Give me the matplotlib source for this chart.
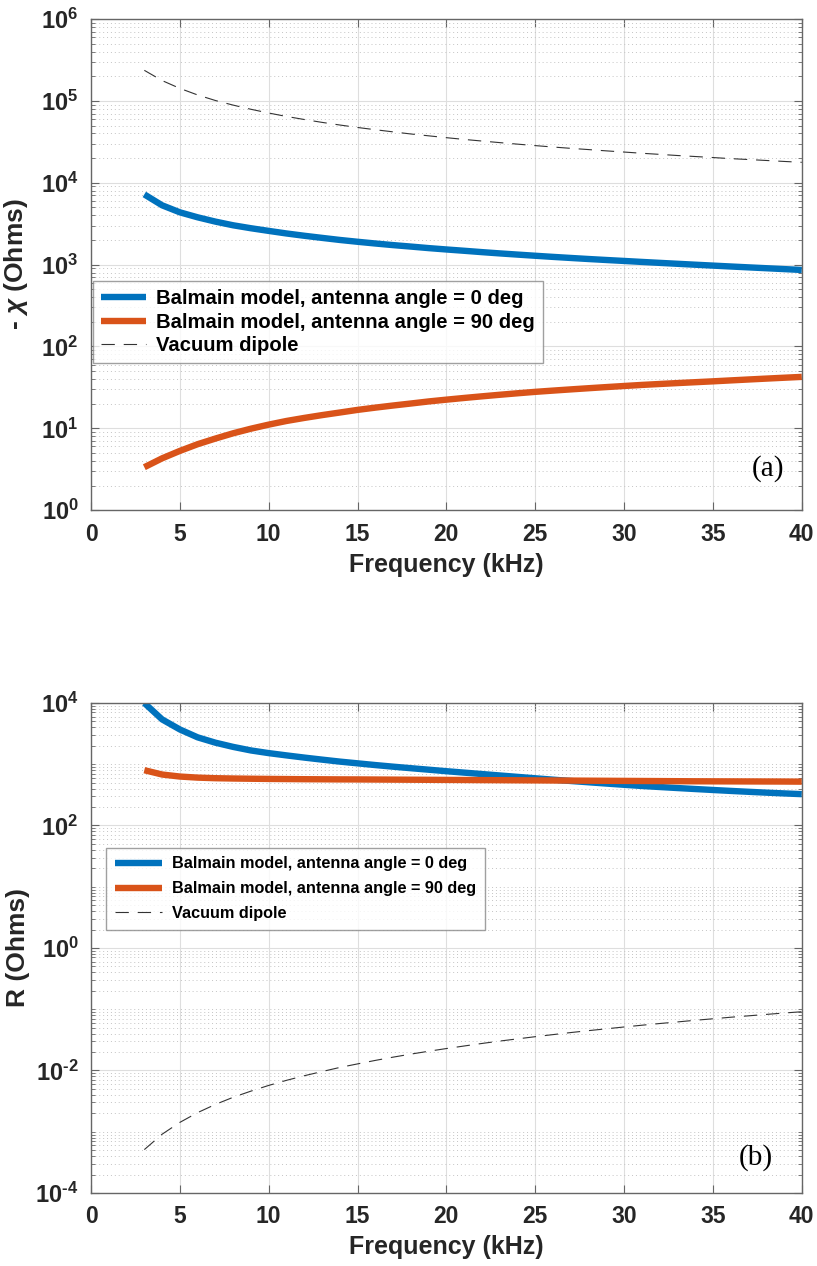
import numpy as np
import matplotlib
matplotlib.use("Agg")
import matplotlib.pyplot as plt
from matplotlib.ticker import FixedLocator, NullFormatter

plt.rcParams['font.family'] = ['Liberation Sans', 'DejaVu Sans']
plt.rcParams['font.weight'] = 'bold'
plt.rcParams['mathtext.fontset'] = 'custom'
plt.rcParams['mathtext.rm'] = 'Liberation Sans:bold'
plt.rcParams['mathtext.it'] = 'Liberation Sans:italic:bold'
plt.rcParams['mathtext.bf'] = 'Liberation Sans:bold'

# frequency (kHz)
freq = list(range(3, 41))

# (a) reactance, -chi (Ohms)
chi_0deg = [7200, 5300, 4350, 3780, 3350, 3020, 2780, 2580, 2400, 2250,
            2120, 2000, 1900, 1810, 1730, 1660, 1590, 1530, 1475, 1420,
            1370, 1325, 1282, 1242, 1205, 1170, 1138, 1108, 1078, 1050,
            1023, 997, 972, 948, 925, 903, 881, 860]
chi_90deg = [3.35, 4.3, 5.3, 6.4, 7.5, 8.7, 9.9, 11.1, 12.3, 13.4,
             14.5, 15.6, 16.8, 17.9, 19.0, 20.1, 21.3, 22.4, 23.5, 24.6,
             25.7, 26.8, 27.9, 28.9, 29.9, 30.9, 31.9, 32.9, 33.9, 34.8,
             35.7, 36.6, 37.5, 38.5, 39.5, 40.5, 41.5, 42.5]
chi_vac = [236000, 177000, 142000, 118000, 101000, 88700, 78900, 71000, 64500, 59200,
           54600, 50700, 47300, 44400, 41800, 39400, 37400, 35500, 33800, 32300,
           30900, 29600, 28400, 27300, 26300, 25400, 24500, 23700, 22900, 22200,
           21500, 20900, 20300, 19700, 19200, 18700, 18200, 17750]

# (b) resistance, R (Ohms)
r_0deg = [10000, 5400, 3700, 2750, 2250, 1920, 1680, 1520, 1395, 1285,
          1190, 1105, 1035, 970, 913, 862, 815, 770, 730, 692,
          656, 622, 590, 560, 533, 508, 484, 462, 442, 425,
          409, 394, 380, 367, 355, 344, 334, 325]
r_90deg = [800, 680, 630, 605, 592, 585, 580, 576, 573, 570,
           568, 566, 565, 563, 561, 559, 557, 555, 553, 551,
           549, 547, 545, 543, 541, 539, 537, 535, 533, 531,
           529, 527, 526, 525, 524, 523, 522, 520]
r_vac = [5.1e-4, 9.1e-4, 1.42e-3, 2.05e-3, 2.79e-3, 3.65e-3, 4.6e-3, 5.7e-3, 6.9e-3, 8.2e-3,
         9.6e-3, 1.12e-2, 1.28e-2, 1.46e-2, 1.65e-2, 1.85e-2, 2.06e-2, 2.28e-2, 2.51e-2, 2.76e-2,
         3.02e-2, 3.28e-2, 3.56e-2, 3.85e-2, 4.16e-2, 4.47e-2, 4.79e-2, 5.13e-2, 5.48e-2, 5.84e-2,
         6.2e-2, 6.6e-2, 6.98e-2, 7.4e-2, 7.8e-2, 8.23e-2, 8.67e-2, 9.1e-2]

labels = ['Balmain model, antenna angle = 0 deg',
          'Balmain model, antenna angle = 90 deg',
          'Vacuum dipole']

blue = '#0072BD'
orange = '#D95319'
edge = '#666666'
txt = '#262626'

fig = plt.figure(figsize=(8.17, 12.66), dpi=100)
ax1 = fig.add_axes([0.1114, 0.597, 0.870, 0.388])
ax2 = fig.add_axes([0.1114, 0.0577, 0.870, 0.387])


def exp_label(v):
    e = round(np.log10(v))
    s = str(e) if e >= 0 else '\\text{-}%d' % -e
    return '$\\mathdefault{10^{%s}}$' % s


def style(ax, ylim, majors):
    ax.set_yscale('log')
    ax.set_xlim(0, 40)
    ax.set_ylim(*ylim)
    ax.set_xticks(range(0, 41, 5))
    ax.yaxis.set_major_locator(FixedLocator(majors))
    lo, hi = np.log10(ylim)
    minors = [m * 10.0 ** e for e in range(int(lo), int(hi)) for m in range(1, 10)]
    minors = [v for v in minors if v not in majors]
    ax.yaxis.set_minor_locator(FixedLocator(minors))
    ax.yaxis.set_minor_formatter(NullFormatter())
    ax.set_yticklabels([exp_label(v) for v in majors])
    ax.tick_params(which='both', direction='in', top=True, right=True,
                   colors=edge, labelcolor=txt)
    ax.tick_params(axis='x', labelsize=16.5, pad=9)
    ax.tick_params(axis='y', labelsize=17, pad=9)
    ax.tick_params(which='major', length=6, width=0.8)
    ax.tick_params(which='minor', length=3, width=0.6)
    ax.tick_params(axis='x', which='minor', length=0)
    for s in ax.spines.values():
        s.set_color(edge)
        s.set_linewidth(1.0)
    ax.grid(True, which='major', color='#dedede', linewidth=0.8, linestyle='-')
    ax.grid(True, which='minor', axis='y', color='#c4c4c4', linewidth=0.7,
            linestyle=(0, (1, 3)))
    ax.set_axisbelow(True)
    ax.set_xlabel('Frequency (kHz)', fontsize=18, fontweight='bold', color=txt, labelpad=5)
    ax.yaxis.set_label_coords(-0.086, 0.5)


# top panel
ax1.plot(freq, chi_0deg, color=blue, lw=4.6, label=labels[0], solid_capstyle='butt')
ax1.plot(freq, chi_90deg, color=orange, lw=4.6, label=labels[1], solid_capstyle='butt')
ax1.plot(freq, chi_vac, color='#333333', lw=0.8, linestyle=(0, (12, 8)), label=labels[2])
style(ax1, (1, 1e6), [1, 10, 100, 1e3, 1e4, 1e5, 1e6])
ax1.set_ylabel('- $\\chi$ (Ohms)', fontsize=19, fontweight='bold', color=txt)
ax1.text(0.952, 0.085, '(a)', transform=ax1.transAxes, family='Liberation Serif',
         fontweight='normal', fontsize=21, ha='center', va='center')
leg1 = ax1.legend(loc='upper left', bbox_to_anchor=(0.003, 0.466), borderaxespad=0,
                  fontsize=14.6, frameon=True, fancybox=False, edgecolor='#888888',
                  handlelength=2.2, handletextpad=0.5, labelspacing=0.22,
                  borderpad=0.4)
leg1.get_frame().set_linewidth(1.0)

# bottom panel
ax2.plot(freq, r_0deg, color=blue, lw=4.6, label=labels[0], solid_capstyle='butt')
ax2.plot(freq, r_90deg, color=orange, lw=4.6, label=labels[1], solid_capstyle='butt')
ax2.plot(freq, r_vac, color='#333333', lw=0.8, linestyle=(0, (12, 8)), label=labels[2])
style(ax2, (1e-4, 1e4), [1e-4, 1e-2, 1, 1e2, 1e4])
ax2.set_ylabel('R (Ohms)', fontsize=19, fontweight='bold', color=txt)
ax2.text(0.935, 0.073, '(b)', transform=ax2.transAxes, family='Liberation Serif',
         fontweight='normal', fontsize=21, ha='center', va='center')
leg2 = ax2.legend(loc='upper left', bbox_to_anchor=(0.021, 0.705), borderaxespad=0,
                  fontsize=11.7, frameon=True, fancybox=False, edgecolor='#888888',
                  handlelength=2.9, handletextpad=0.6, labelspacing=0.6,
                  borderpad=0.55)
leg2.get_frame().set_linewidth(1.0)

fig.savefig('out.png', dpi=100)
